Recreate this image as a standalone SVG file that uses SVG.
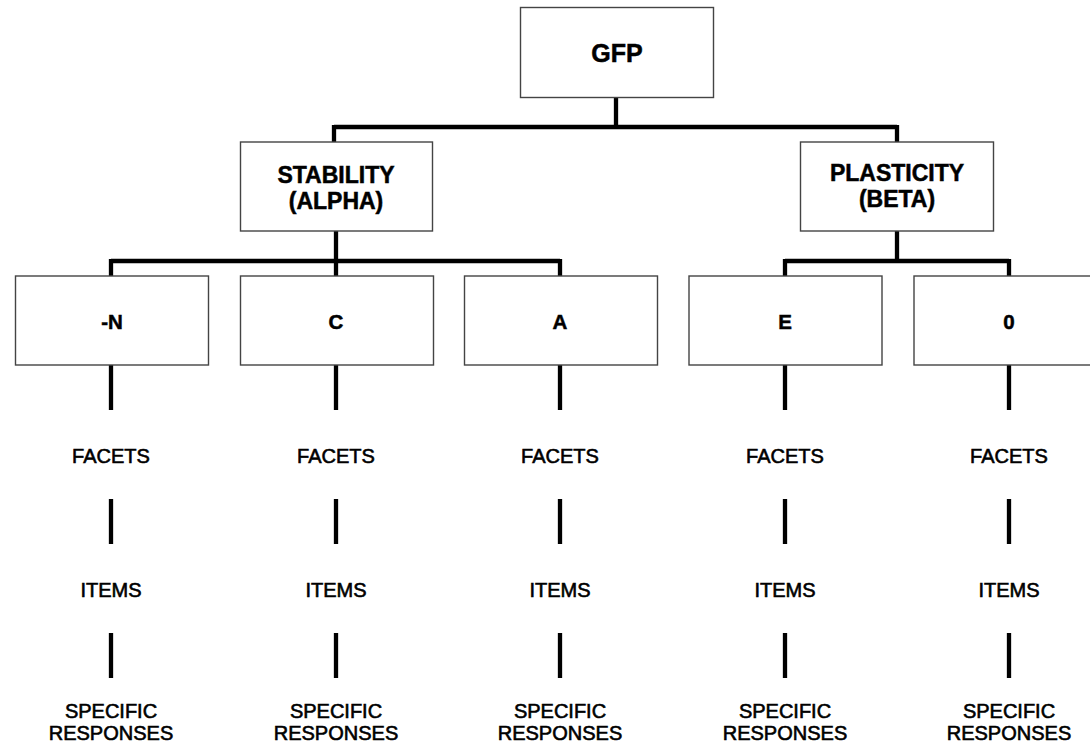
<svg xmlns="http://www.w3.org/2000/svg" width="1090" height="747" viewBox="0 0 1090 747">
<style>
.box{fill:#fff;stroke:#444;stroke-width:1.4}
.bt{font-family:"Liberation Sans",Arial,sans-serif;font-weight:bold;font-size:23px;text-anchor:middle;fill:#000;stroke:#000;stroke-width:0.5}
.big{font-size:25px}
.sm{font-size:20.5px}
.lt{font-family:"Liberation Sans",Arial,sans-serif;font-size:20px;text-anchor:middle;fill:#000;stroke:#000;stroke-width:0.6}
.c{fill:none;stroke:#000;stroke-width:4.3;stroke-linecap:butt}
</style>
<rect width="1090" height="747" fill="#fff"/>
<g id="connectors">
<path class="c" d="M616 98V127M334 127H897M334 125V142M897 125V142"/>
<path class="c" d="M336 231V261M111 261H560M111 259V276M336 259V276M560 259V276"/>
<path class="c" d="M897 231V261M785 261H1009M785 259V276M1009 259V276"/>
<path class="c" d="M111 365V410M336 365V410M560 365V410M785 365V410M1009 365V410"/>
<path class="c" d="M111 499V544M336 499V544M560 499V544M785 499V544M1009 499V544"/>
<path class="c" d="M111 633V678M336 633V678M560 633V678M785 633V678M1009 633V678"/>
</g>
<g id="gfp"><rect class="box" x="520.5" y="7.5" width="193" height="90"/><text class="bt big" x="617" y="62">GFP</text></g>
<g id="stability"><rect class="box" x="240.5" y="142" width="192" height="89"/><text class="bt" x="336" y="182.5">STABILITY</text><text class="bt" x="336" y="208.5">(ALPHA)</text></g>
<g id="plasticity"><rect class="box" x="800.5" y="142" width="193" height="89"/><text class="bt" x="897" y="181">PLASTICITY</text><text class="bt" x="897" y="207">(BETA)</text></g>
<g id="n"><rect class="box" x="15.5" y="276" width="193" height="89"/><text class="bt sm" x="112" y="328.5">-N</text></g>
<g id="c"><rect class="box" x="240.5" y="276" width="193" height="89"/><text class="bt sm" x="336" y="328.5">C</text></g>
<g id="a"><rect class="box" x="464.5" y="276" width="193" height="89"/><text class="bt sm" x="560" y="328.5">A</text></g>
<g id="e"><rect class="box" x="689" y="276" width="193" height="89"/><text class="bt sm" x="785" y="328.5">E</text></g>
<g id="o"><rect class="box" x="914" y="276" width="193" height="89"/><text class="bt sm" x="1009" y="328.5">0</text></g>
<g id="labels-n"><text class="lt" x="111" y="462.5">FACETS</text><text class="lt" x="111" y="597">ITEMS</text><text class="lt" x="111" y="718">SPECIFIC</text><text class="lt" x="111" y="740">RESPONSES</text></g>
<g id="labels-c"><text class="lt" x="336" y="462.5">FACETS</text><text class="lt" x="336" y="597">ITEMS</text><text class="lt" x="336" y="718">SPECIFIC</text><text class="lt" x="336" y="740">RESPONSES</text></g>
<g id="labels-a"><text class="lt" x="560" y="462.5">FACETS</text><text class="lt" x="560" y="597">ITEMS</text><text class="lt" x="560" y="718">SPECIFIC</text><text class="lt" x="560" y="740">RESPONSES</text></g>
<g id="labels-e"><text class="lt" x="785" y="462.5">FACETS</text><text class="lt" x="785" y="597">ITEMS</text><text class="lt" x="785" y="718">SPECIFIC</text><text class="lt" x="785" y="740">RESPONSES</text></g>
<g id="labels-o"><text class="lt" x="1009" y="462.5">FACETS</text><text class="lt" x="1009" y="597">ITEMS</text><text class="lt" x="1009" y="718">SPECIFIC</text><text class="lt" x="1009" y="740">RESPONSES</text></g>
</svg>
